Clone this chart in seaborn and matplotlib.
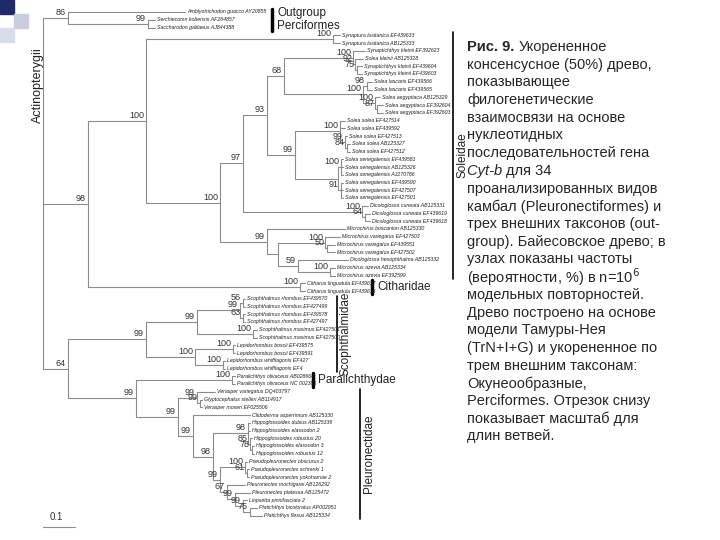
import matplotlib
matplotlib.use("Agg")
import matplotlib.pyplot as plt
import seaborn as sns
from matplotlib.patches import Rectangle

sns.set_theme(style="white")
plt.rcParams["font.family"] = ["Liberation Sans", "DejaVu Sans"]

# =========================
# TREE DATA (preorder: name, parent, depth, support)
# =========================
node_name = [
    "R",
    "OG", "Amblyotrichodon guacco AY20855", "O99", "Serchiecomn kobensis AF264857", "Saccharodon galilaeus AJ844388",
    "A98", "S100", "SY100", "Synaptura lusitanica EF439633", "Synaptura lusitanica AB125333",
    "G100", "N97", "N93", "N68",
    "K100", "Synaptichthys kleinii EF392623", "K92", "Solea kleinii AB125328", "K75",
    "Synaptichthys kleinii EF439604", "Synaptichthys kleinii EF439603",
    "L100", "L98", "Solea lascaris EF439566", "Solea lascaris EF439565",
    "E100", "Solea aegyptiaca AB125329", "E87", "Solea aegyptiaca EF392604", "Solea aegyptiaca EF392603",
    "N99s", "SS100", "Solea solea EF427514", "Solea solea EF439592", "SS99", "Solea solea EF427513",
    "SS84", "Solea solea AB125327", "Solea solea EF427512",
    "SE", "SE100", "Solea senegalensis EF439581", "Solea senegalensis AB125326", "Solea senegalensis AJ270786",
    "SE91", "Solea senegalensis EF439590", "Solea senegalensis EF427507", "Solea senegalensis EF427501",
    "D100", "Dicologlossa cuneata AB125331", "D64", "Dicologlossa cuneata EF439619", "Dicologlossa cuneata EF439618",
    "M99", "Microchirus boscanion AB125330", "MH",
    "MV100", "Microchirus variegatus EF427503", "MV50", "Microchirus variegatus EF439551", "Microchirus variegatus EF427502",
    "M59", "Dicologlossa hexophthalma AB125332", "MA100", "Microchirus azevia AB125334", "Microchirus azevia EF392599",
    "C100", "Citharus linguatula EF439617", "Citharus linguatula EF439616",
    "B64", "SC99", "T99", "T99b",
    "T56", "Scophthalmus rhombus EF439570", "Scophthalmus rhombus EF427499",
    "T63", "Scophthalmus rhombus EF439578", "Scophthalmus rhombus EF427497",
    "T100", "Scophthalmus maximus EF427501", "Scophthalmus maximus EF427500",
    "LP100", "LB100", "Lepidorhombus boscii EF439575", "Lepidorhombus boscii EF439591",
    "LW100", "Lepidorhombus whiffiagonis EF427", "Lepidorhombus whiffiagonis EF4",
    "P99", "PA100", "Paralichthys olivaceus AB028664", "Paralichthys olivaceus NC 002386",
    "PL99", "V99", "Verasper variegatus DQ403797", "V99b", "Glyptocephalus stelleri AB114917", "Verasper moseri EF025506",
    "H99", "Clidoderma asperrimum AB125330", "H98",
    "HG98", "Hippoglossoides dubius AB125336", "Hippoglossoides elassodon 2", "HG85", "Hippoglossoides robustus 20",
    "HG78", "Hippoglossoides elassodon 3", "Hippoglossoides robustus 12",
    "Q99", "PS100", "Pseudopleuronectes obscurus 2", "PS61", "Pseudopleuronectes schrenki 1", "Pseudopleuronectes yokohamae 2",
    "Q67", "Pleuronectes mochigarei AB126292", "Q99b", "Pleuronectes platessa AB125472", "Q99c",
    "Liopsetta pinnifasciata 2", "Q75", "Platichthys bicoloratus AP002951", "Platichthys flesus AB125334",
]
node_parent = [
    None,
    "R", "OG", "OG", "O99", "O99",
    "R", "A98", "S100", "SY100", "SY100",
    "S100", "G100", "N97", "N93",
    "N68", "K100", "K100", "K92", "K92",
    "K75", "K75",
    "N68", "L100", "L98", "L98",
    "L100", "E100", "E100", "E87", "E87",
    "N93", "N99s", "SS100", "SS100", "SS100", "SS99",
    "SS99", "SS84", "SS84",
    "N99s", "SE", "SE100", "SE100", "SE100",
    "SE", "SE91", "SE91", "SE91",
    "N97", "D100", "D100", "D64", "D64",
    "G100", "M99", "M99",
    "MH", "MV100", "MV100", "MV50", "MV50",
    "MH", "M59", "M59", "MA100", "MA100",
    "A98", "C100", "C100",
    "R", "B64", "SC99", "T99",
    "T99b", "T56", "T56",
    "T99b", "T63", "T63",
    "T99", "T100", "T100",
    "SC99", "LP100", "LB100", "LB100",
    "LP100", "LW100", "LW100",
    "B64", "P99", "PA100", "PA100",
    "P99", "PL99", "V99", "V99", "V99b", "V99b",
    "PL99", "H99", "H99",
    "H98", "HG98", "HG98", "HG98", "HG85",
    "HG85", "HG78", "HG78",
    "H98", "Q99", "PS100", "PS100", "PS61", "PS61",
    "Q99", "Q67", "Q67", "Q99b", "Q99b",
    "Q99c", "Q99c", "Q75", "Q75",
]
node_x = [
    43,
    68, 185, 148, 155, 155,
    88, 146, 333, 340, 340,
    220, 243, 267, 284,
    353, 365, 355, 363, 357,
    362, 362,
    363, 367, 372, 372,
    375, 380, 377, 383, 383,
    295, 340, 345, 345, 345, 347,
    347, 350, 350,
    338, 341, 343, 343, 343,
    341, 343, 343, 343,
    362, 368, 365, 370, 370,
    267, 345, 278,
    325, 340, 327, 335, 335,
    298, 348, 330, 335, 335,
    300, 305, 305,
    68, 146, 197, 240,
    243, 245, 245,
    243, 245, 245,
    253, 257, 257,
    195, 233, 235, 235,
    223, 225, 225,
    136, 232, 235, 235,
    178, 197, 215, 200, 202, 202,
    193, 250, 213,
    248, 250, 250, 250, 252,
    252, 254, 254,
    220, 245, 247, 247, 249, 249,
    227, 245, 235, 250, 243,
    247, 250, 257, 262,
]
node_support = {
    "OG": "86", "O99": "99", "A98": "98", "S100": "100", "SY100": "100", "G100": "100",
    "N97": "97", "N93": "93", "N68": "68", "K100": "100", "K92": "92", "K75": "75",
    "L100": "100", "L98": "98", "E100": "100", "E87": "87", "N99s": "99", "SS100": "100",
    "SS99": "99", "SS84": "84", "SE100": "100", "SE91": "91", "D100": "100", "D64": "64",
    "M99": "99", "MV100": "100", "MV50": "50", "M59": "59", "MA100": "100", "C100": "100",
    "B64": "64", "SC99": "99", "T99": "99", "T99b": "99", "T56": "56", "T63": "63",
    "T100": "100", "LP100": "100", "LB100": "100", "LW100": "100", "P99": "99",
    "PA100": "100", "PL99": "99", "V99": "99", "V99b": "99", "H99": "99", "H98": "98",
    "HG98": "98", "HG85": "85", "HG78": "78", "Q99": "99", "PS100": "100", "PS61": "61",
    "Q67": "67", "Q99b": "99", "Q99c": "99", "Q75": "75",
}

clade_names = ["Outgroup\nPerciformes", "Soleidae", "Citharidae", "Scophthalmidae", "Paralichthydae", "Pleuronectidae"]
clade_first = ["Amblyotrichodon guacco AY20855", "Synaptura lusitanica EF439633", "Citharus linguatula EF439617",
               "Scophthalmus rhombus EF439570", "Paralichthys olivaceus AB028664", "Verasper variegatus DQ403797"]
clade_last = ["Saccharodon galilaeus AJ844388", "Microchirus azevia EF392599",
              "Citharus linguatula EF439616", "Lepidorhombus whiffiagonis EF4", "Paralichthys olivaceus NC 002386",
              "Platichthys flesus AB125334"]
clade_bar_x = [272, 453, 372, 337, 313, 360]
clade_vertical = [False, True, False, True, False, True]

caption_lines = [
    "Рис. 9. Укорененное", "консенсусное (50%) древо,", "показывающее", "филогенетические",
    "взаимосвязи на основе", "нуклеотидных", "последовательностей гена", "Cyt-b для 34",
    "проанализированных видов", "камбал (Pleuronectiformes) и", "трех внешних таксонов (out-",
    "group). Байесовское древо; в", "узлах показаны частоты", "(вероятности, %) в n=10$^6$",
    "модельных повторностей.", "Древо построено на основе", "модели Тамуры-Нея",
    "(TrN+I+G) и укорененное по", "трем внешним таксонам:", "Окунеообразные,",
    "Perciformes. Отрезок снизу", "показывает масштаб для", "длин ветвей.",
]

# =========================
# LAYOUT
# =========================
xpos = dict(zip(node_name, node_x))
parent = dict(zip(node_name, node_parent))
children = {n: [c for c, p in zip(node_name, node_parent) if p == n] for n in node_name}
leaves = [n for n in node_name if not children[n]]
ypos = {}
for i, leaf in enumerate(leaves):
    ypos[leaf] = 12 + i * 7.75
for n in reversed(node_name):
    if children[n]:
        ypos[n] = (ypos[children[n][0]] + ypos[children[n][-1]]) / 2

fig = plt.figure(figsize=(7.2, 5.4), dpi=100)
ax = fig.add_axes([0, 0, 1, 1])
ax.set_xlim(0, 720)
ax.set_ylim(540, 0)
ax.axis("off")

tip_font = ["Liberation Sans Narrow", "Liberation Sans", "DejaVu Sans"]
line_kw = dict(color="#8c8c8c", lw=0.8)
for n in node_name:
    p = parent[n]
    if p is not None:
        ax.plot([xpos[p], xpos[n]], [ypos[n], ypos[n]], **line_kw)
    if children[n]:
        ys = [ypos[c] for c in children[n]]
        ax.plot([xpos[n], xpos[n]], [min(ys), max(ys)], **line_kw)
    if not children[n]:
        ax.text(xpos[n] + 2, ypos[n], n, fontsize=3.8, style="italic", va="center", ha="left",
                color="#222222", family=tip_font)
    if n in node_support:
        ax.text(xpos[n] - 2, ypos[n] - 1, node_support[n], fontsize=6.5, ha="right", va="bottom", color="#333333")

for name, a, b, bx, vert in zip(clade_names, clade_first, clade_last, clade_bar_x, clade_vertical):
    y0, y1 = ypos[a] - 3, ypos[b] + 3
    ax.plot([bx, bx], [y0, y1], color="black", lw=1.2 if vert else 2.5)
    if vert:
        ax.text(bx + 9, (y0 + y1) / 2, name, rotation=90, fontsize=8.5, ha="center", va="center", color="#222222")
    else:
        ax.text(bx + 5, (y0 + y1) / 2, name, fontsize=8.5, ha="left", va="center", color="#222222", linespacing=1.1)

ax.text(38, 85, "Actinopterygii", rotation=90, fontsize=9, ha="center", va="center", color="#222222")

# scale bar
ax.plot([43, 75], [527, 527], color="#8c8c8c", lw=0.8)
ax.text(56, 522, "0.1", fontsize=7, ha="center", va="bottom", color="#333333")

# slide decoration
ax.add_patch(Rectangle((0, 0), 14, 14, color="#1f2a6b"))
ax.add_patch(Rectangle((14, 14), 14, 14, color="#c9cde0"))
ax.add_patch(Rectangle((0, 28), 14, 14, color="#d9dcea"))

for i, line in enumerate(caption_lines):
    y = 47 + i * 17.7
    if i == 0:
        t = ax.text(467, y, "Рис. 9. ", fontsize=10.5, weight="bold", va="center", ha="left")
        ax.annotate("Укорененное", xycoords=t, xy=(1, 0.5), va="center", ha="left", fontsize=10.5)
    elif i == 7:
        t = ax.text(467, y, "Cyt-b ", fontsize=10.5, style="italic", va="center", ha="left")
        ax.annotate("для 34", xycoords=t, xy=(1, 0.5), va="center", ha="left", fontsize=10.5)
    else:
        ax.text(467, y, line, fontsize=10.5, va="center", ha="left")

fig.savefig("out.png", dpi=100)
